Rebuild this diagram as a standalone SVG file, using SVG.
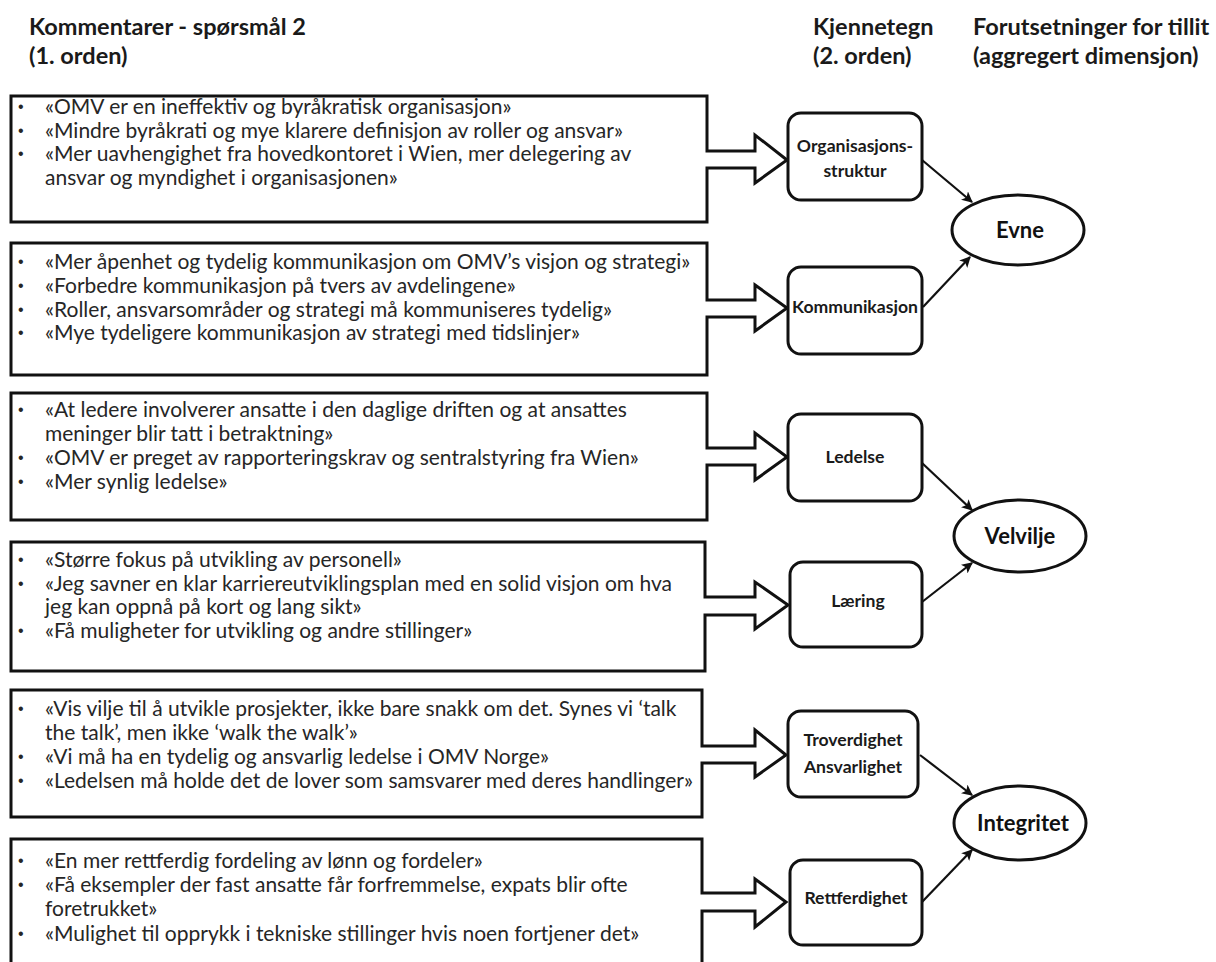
<svg xmlns="http://www.w3.org/2000/svg" width="1216" height="962" viewBox="0 0 1216 962">
<style>
.hdr{font-family:Lato,"Liberation Sans",sans-serif;font-weight:bold;font-size:23.5px;fill:#1a1a1a}
.body{font-family:Lato,"Liberation Sans",sans-serif;font-size:21px;fill:#262626}
.bul{font-family:"Liberation Sans",sans-serif;font-size:16px;fill:#262626}
.box{fill:#fff;stroke:#111;stroke-width:3;stroke-linejoin:miter}
.node{fill:#fff;stroke:#111;stroke-width:3}
.ntxt{font-family:Lato,"Liberation Sans",sans-serif;font-weight:bold;font-size:17.6px;fill:#1a1a1a;text-anchor:middle}
.etxt{font-family:Lato,"Liberation Sans",sans-serif;font-weight:bold;font-size:22px;fill:#111;text-anchor:middle}
.conn{stroke:#111;stroke-width:2.2;fill:none;marker-end:url(#ah)}
</style>
<defs>
<marker id="ah" viewBox="0 0 10 10" refX="9" refY="5" markerWidth="5" markerHeight="5" orient="auto" markerUnits="strokeWidth">
<path d="M0,0 L10,5 L0,10 L2.5,5 Z" fill="#111"/>
</marker>
</defs>
<rect width="1216" height="962" fill="#fff"/>
<g id="headers">
<text class="hdr" x="29" y="35">Kommentarer - spørsmål 2</text>
<text class="hdr" x="29" y="64">(1. orden)</text>
<text class="hdr" x="813" y="35">Kjennetegn</text>
<text class="hdr" x="813" y="64">(2. orden)</text>
<text class="hdr" x="973" y="35">Forutsetninger for tillit</text>
<text class="hdr" x="973" y="64">(aggregert dimensjon)</text>
</g>
<g id="box1">
<path class="box" d="M11,96 H707 V151 H755 V135 L787,160 L755,183 V168 H707 V222 H11 Z"/>
<g class="bul">
<text x="18" y="112">•</text><text x="18" y="136">•</text><text x="18" y="159">•</text>
</g>
<g class="body">
<text x="45" y="114">«OMV er en ineffektiv og byråkratisk organisasjon»</text>
<text x="45" y="138">«Mindre byråkrati og mye klarere definisjon av roller og ansvar»</text>
<text x="45" y="161">«Mer uavhengighet fra hovedkontoret i Wien, mer delegering av</text>
<text x="45" y="185">ansvar og myndighet i organisasjonen»</text>
</g>
</g>
<g id="box2">
<path class="box" d="M11,243 H707 V300 H755 V285 L787,308 L755,331 V317 H707 V375 H11 Z"/>
<g class="bul">
<text x="18" y="267">•</text><text x="18" y="291">•</text><text x="18" y="315">•</text><text x="18" y="338">•</text>
</g>
<g class="body">
<text x="45" y="269">«Mer åpenhet og tydelig kommunikasjon om OMV’s visjon og strategi»</text>
<text x="45" y="293">«Forbedre kommunikasjon på tvers av avdelingene»</text>
<text x="45" y="317">«Roller, ansvarsområder og strategi må kommuniseres tydelig»</text>
<text x="45" y="340">«Mye tydeligere kommunikasjon av strategi med tidslinjer»</text>
</g>
</g>
<g id="box3">
<path class="box" d="M11,393 H707 V448 H755 V433 L787,457 L755,480 V465 H707 V520 H11 Z"/>
<g class="bul">
<text x="18" y="415">•</text><text x="18" y="463">•</text><text x="18" y="487">•</text>
</g>
<g class="body">
<text x="45" y="417">«At ledere involverer ansatte i den daglige driften og at ansattes</text>
<text x="45" y="441">meninger blir tatt i betraktning»</text>
<text x="45" y="465">«OMV er preget av rapporteringskrav og sentralstyring fra Wien»</text>
<text x="45" y="489">«Mer synlig ledelse»</text>
</g>
</g>
<g id="box4">
<path class="box" d="M11,542 H705 V597 H755 V582 L788,605 L755,629 V615 H705 V671 H11 Z"/>
<g class="bul">
<text x="18" y="565">•</text><text x="18" y="589">•</text><text x="18" y="636">•</text>
</g>
<g class="body">
<text x="45" y="567">«Større fokus på utvikling av personell»</text>
<text x="45" y="591">«Jeg savner en klar karriereutviklingsplan med en solid visjon om hva</text>
<text x="45" y="614">jeg kan oppnå på kort og lang sikt»</text>
<text x="45" y="638">«Få muligheter for utvikling og andre stillinger»</text>
</g>
</g>
<g id="box5">
<path class="box" d="M11,690 H702 V746 H755 V730 L786,755 L755,777 V763 H702 V817 H11 Z"/>
<g class="bul">
<text x="18" y="714">•</text><text x="18" y="762">•</text><text x="18" y="786">•</text>
</g>
<g class="body">
<text x="45" y="716">«Vis vilje til å utvikle prosjekter, ikke bare snakk om det. Synes vi ‘talk</text>
<text x="45" y="740">the talk’, men ikke ‘walk the walk’»</text>
<text x="45" y="764">«Vi må ha en tydelig og ansvarlig ledelse i OMV Norge»</text>
<text x="45" y="788">«Ledelsen må holde det de lover som samsvarer med deres handlinger»</text>
</g>
</g>
<g id="box6">
<path class="box" d="M11,839 H702 V893 H755 V879 L786,902 L755,927 V911 H702 V968 H11 Z"/>
<g class="bul">
<text x="18" y="866">•</text><text x="18" y="890">•</text><text x="18" y="939">•</text>
</g>
<g class="body">
<text x="45" y="868">«En mer rettferdig fordeling av lønn og fordeler»</text>
<text x="45" y="892">«Få eksempler der fast ansatte får forfremmelse, expats blir ofte</text>
<text x="45" y="916">foretrukket»</text>
<text x="45" y="941">«Mulighet til opprykk i tekniske stillinger hvis noen fortjener det»</text>
</g>
</g>
<g id="n-org">
<rect class="node" x="788" y="113" width="134" height="87" rx="13"/>
<text class="ntxt" x="855" y="152">Organisasjons-</text>
<text class="ntxt" x="855" y="177">struktur</text>
</g>
<g id="n-komm">
<rect class="node" x="788" y="267" width="134" height="87" rx="13"/>
<text class="ntxt" x="855" y="313">Kommunikasjon</text>
</g>
<g id="n-led">
<rect class="node" x="788" y="414" width="134" height="87" rx="13"/>
<text class="ntxt" x="855" y="463">Ledelse</text>
</g>
<g id="n-laer">
<rect class="node" x="790" y="562" width="132" height="85" rx="13"/>
<text class="ntxt" x="858" y="607">Læring</text>
</g>
<g id="n-trov">
<rect class="node" x="788" y="711" width="130" height="86" rx="13"/>
<text class="ntxt" x="853" y="746">Troverdighet</text>
<text class="ntxt" x="853" y="773">Ansvarlighet</text>
</g>
<g id="n-rett">
<rect class="node" x="790" y="860" width="132" height="85" rx="13"/>
<text class="ntxt" x="856" y="904">Rettferdighet</text>
</g>
<g id="e-evne">
<ellipse class="node" cx="1018" cy="230" rx="66" ry="35"/>
<text class="etxt" x="1020" y="238">Evne</text>
</g>
<g id="e-velvilje">
<ellipse class="node" cx="1020" cy="536" rx="66" ry="36"/>
<text class="etxt" x="1020" y="544">Velvilje</text>
</g>
<g id="e-integritet">
<ellipse class="node" cx="1020" cy="823" rx="66" ry="37"/>
<text class="etxt" x="1023" y="831">Integritet</text>
</g>
<g id="connectors">
<line class="conn" x1="922" y1="160" x2="972" y2="202"/>
<line class="conn" x1="923" y1="307" x2="970" y2="257"/>
<line class="conn" x1="922" y1="463" x2="972" y2="510"/>
<line class="conn" x1="922" y1="602" x2="972" y2="563"/>
<line class="conn" x1="920" y1="755" x2="972" y2="795"/>
<line class="conn" x1="922" y1="902" x2="972" y2="850"/>
</g>
</svg>
